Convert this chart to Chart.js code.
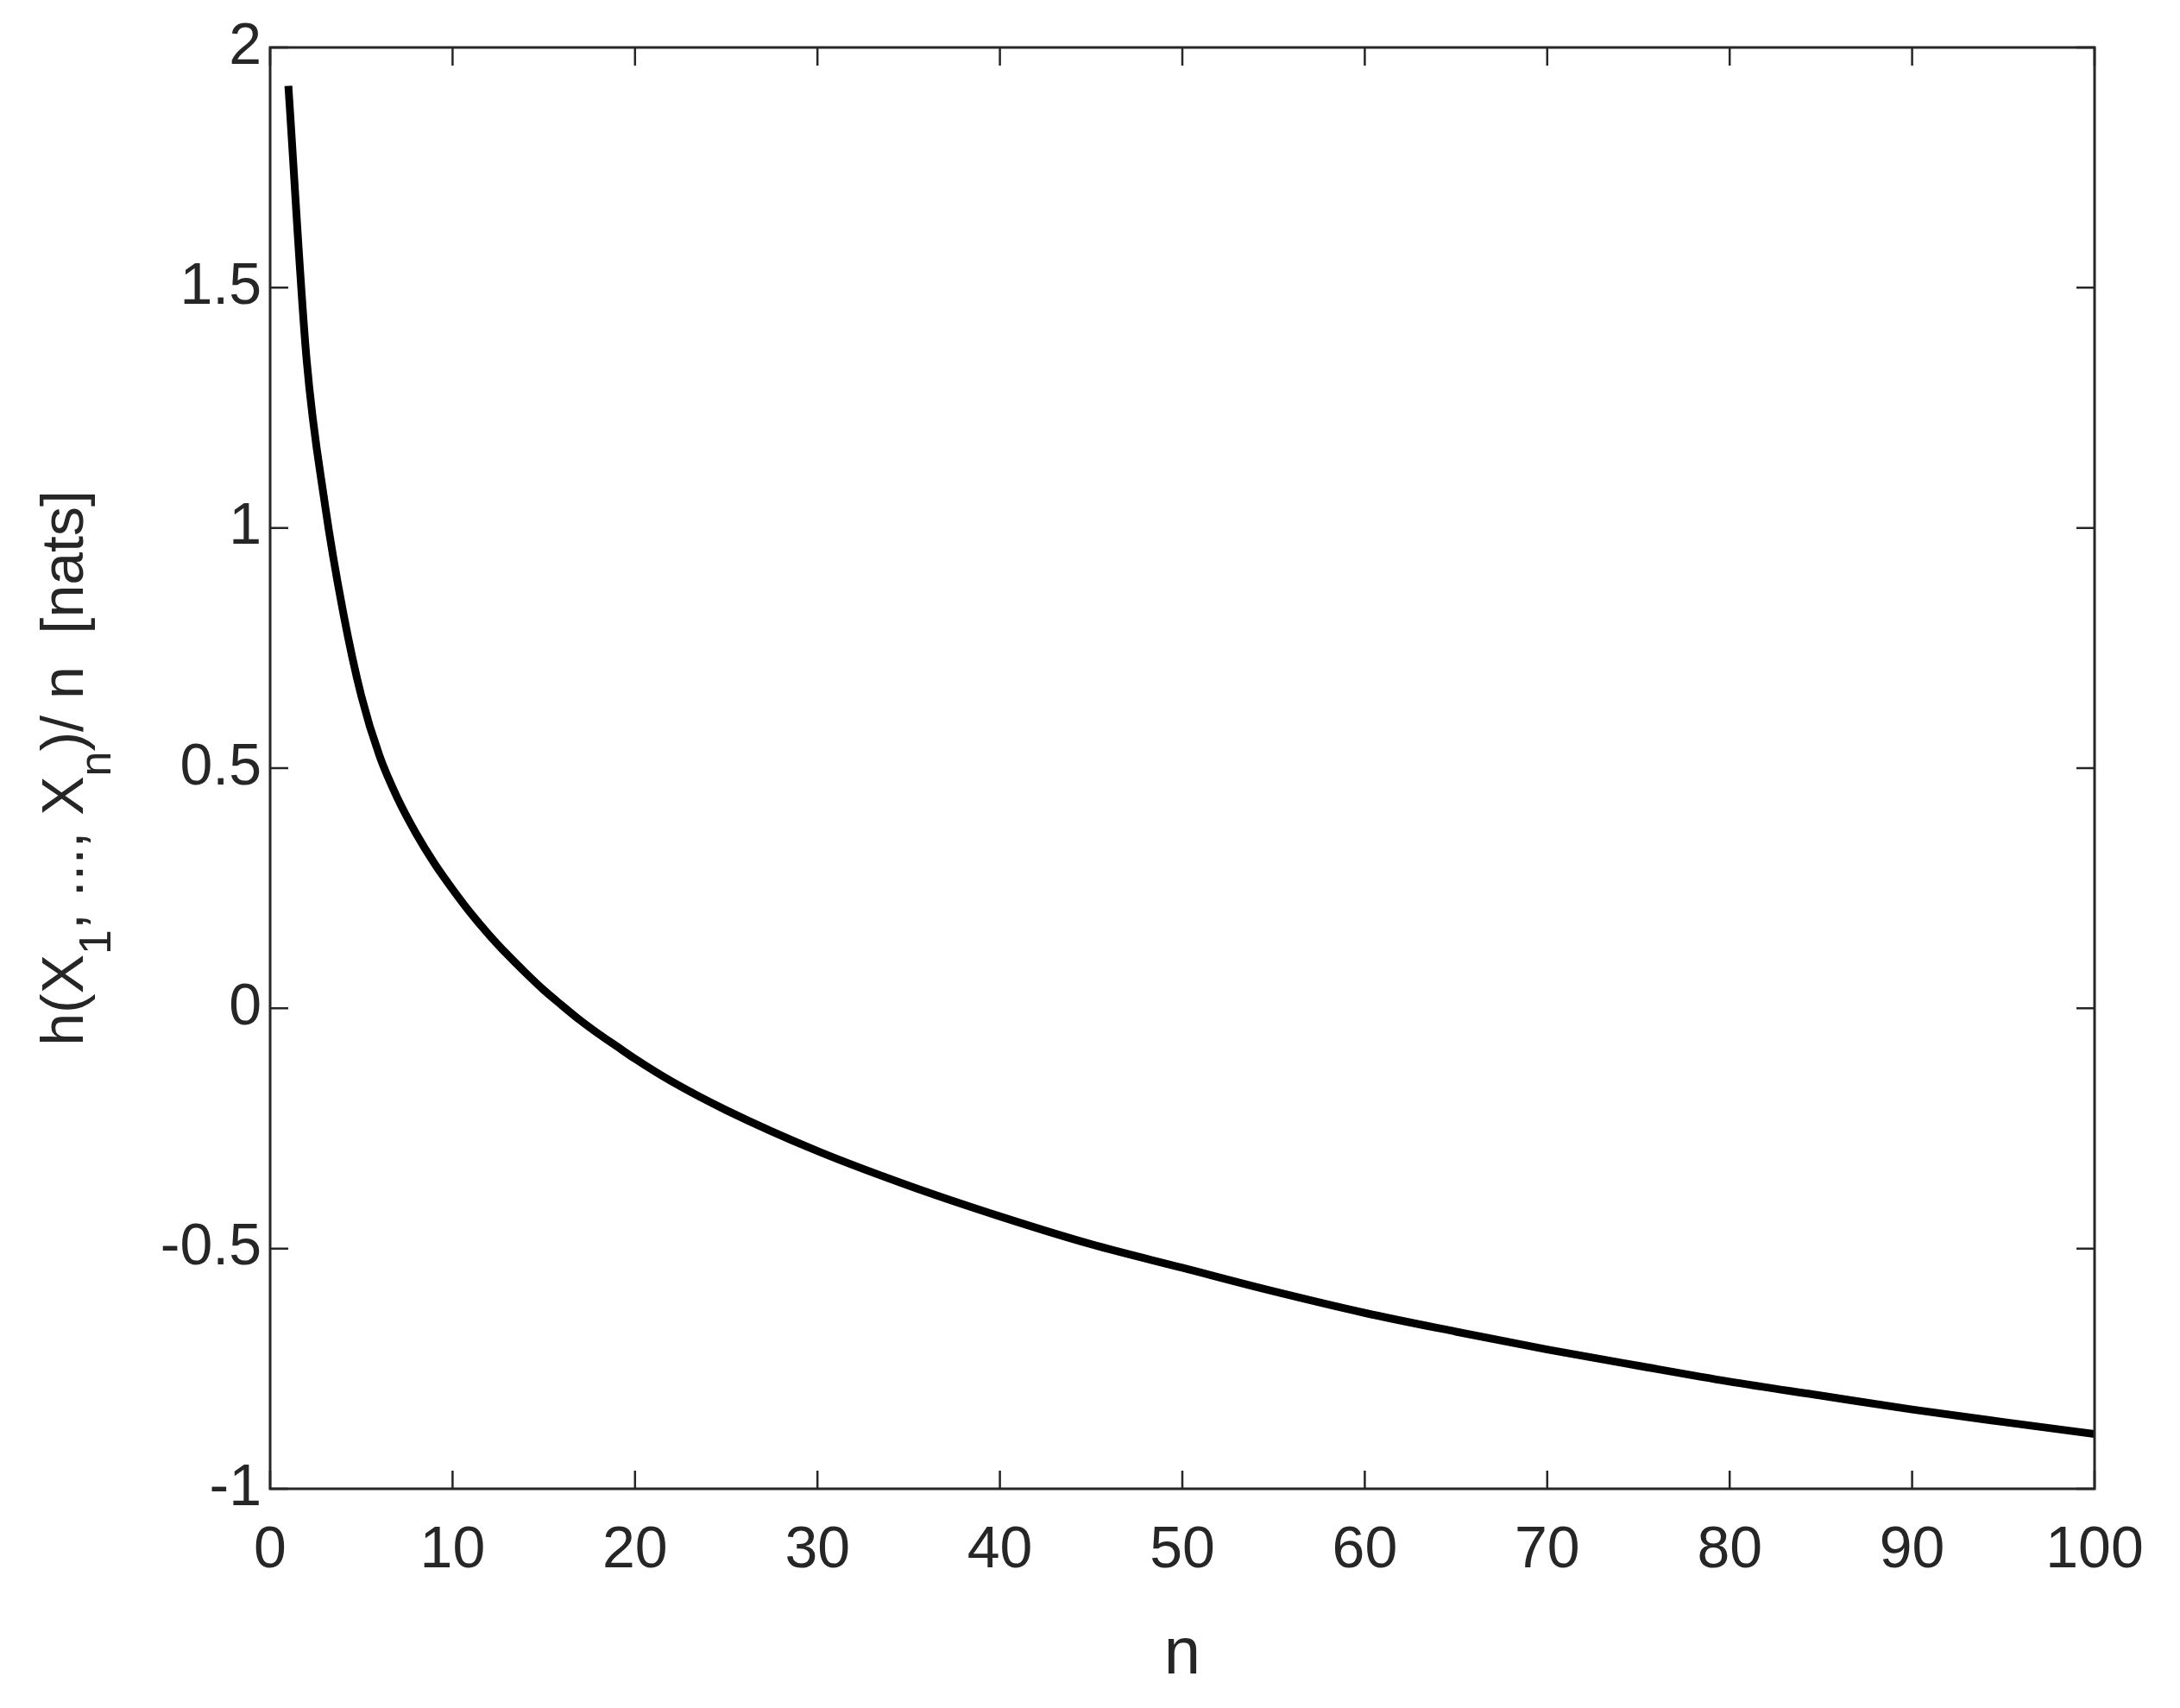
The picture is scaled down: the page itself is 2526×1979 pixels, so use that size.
<!DOCTYPE html>
<html>
<head>
<meta charset="utf-8">
<script src="https://cdn.jsdelivr.net/npm/chart.js@4.4.1/dist/chart.umd.min.js"></script>
<style>
  html, body { margin: 0; padding: 0; background: #fff; }
  canvas { display: block; }
</style>
</head>
<body>
<canvas id="entropyChart" width="2526" height="1979"></canvas>
<script>
// values
const nValues = [1, 2, 3, 4, 5, 6, 7, 8, 9, 10, 11, 12, 13, 14, 15, 16, 17, 18, 19, 20,
                 22, 25, 30, 35, 40, 45, 50, 55, 60, 65, 70, 75, 80, 85, 90, 95, 100];
const hValues = [1.92, 1.35, 1.05, 0.825, 0.65, 0.525, 0.436, 0.364, 0.302, 0.248,
                 0.198, 0.153, 0.112, 0.074, 0.038, 0.006, -0.025, -0.053, -0.079, -0.105,
                 -0.152, -0.212, -0.297, -0.369, -0.433, -0.491, -0.540, -0.589, -0.634, -0.673,
                 -0.710, -0.744, -0.777, -0.806, -0.835, -0.861, -0.886];
const xTicks = [0, 10, 20, 30, 40, 50, 60, 70, 80, 90, 100];
const yTicks = [-1, -0.5, 0, 0.5, 1, 1.5, 2];

const FONT = "'Liberation Sans', Arial, Helvetica, sans-serif";
const AXIS_COLOR = '#262626';

// box around the plot with inward ticks on all four sides
const boxPlugin = {
    id: 'boxPlugin',
    afterDatasetsDraw(chart) {
        const { ctx, chartArea: a, scales } = chart;
        const len = 21;
        ctx.save();
        ctx.strokeStyle = AXIS_COLOR;
        ctx.lineWidth = 2.5;
        ctx.beginPath();
        xTicks.forEach(v => {
            const px = scales.x.getPixelForValue(v);
            ctx.moveTo(px, a.bottom); ctx.lineTo(px, a.bottom - len);
            ctx.moveTo(px, a.top); ctx.lineTo(px, a.top + len);
        });
        yTicks.forEach(v => {
            const py = scales.y.getPixelForValue(v);
            ctx.moveTo(a.left, py); ctx.lineTo(a.left + len, py);
            ctx.moveTo(a.right, py); ctx.lineTo(a.right - len, py);
        });
        ctx.stroke();
        ctx.lineWidth = 3;
        ctx.strokeRect(a.left, a.top, a.right - a.left, a.bottom - a.top);
        ctx.restore();
    }
};

// y label with subscripts: h(X_1, ..., X_n)/ n  [nats]
const yLabelPlugin = {
    id: 'yLabelPlugin',
    afterDraw(chart) {
        const { ctx, chartArea: a } = chart;
        const parts = [
            { t: 'h(X' }, { t: '1', sub: true }, { t: ', ..., X' },
            { t: 'n', sub: true }, { t: ')/ n  [nats]' }
        ];
        const mainFont = '68px ' + FONT;
        const subFont = '52px ' + FONT;
        ctx.save();
        let total = 0;
        parts.forEach(p => {
            ctx.font = p.sub ? subFont : mainFont;
            p.w = ctx.measureText(p.t).width;
            total += p.w;
        });
        ctx.translate(96, (a.top + a.bottom) / 2);
        ctx.rotate(-Math.PI / 2);
        ctx.fillStyle = AXIS_COLOR;
        ctx.textBaseline = 'alphabetic';
        ctx.textAlign = 'left';
        let x = -total / 2;
        parts.forEach(p => {
            ctx.font = p.sub ? subFont : mainFont;
            ctx.fillText(p.t, x, p.sub ? 32 : 0);
            x += p.w;
        });
        ctx.restore();
    }
};

const ctx = document.getElementById('entropyChart').getContext('2d');
new Chart(ctx, {
    type: 'line',
    data: {
        datasets: [{
            data: nValues.map((n, i) => ({ x: n, y: hValues[i] })),
            borderColor: '#000000',
            borderWidth: 9,
            pointRadius: 0,
            fill: false,
            cubicInterpolationMode: 'monotone',
            clip: 0
        }]
    },
    options: {
        responsive: false,
        animation: false,
        devicePixelRatio: 1,
        layout: { padding: 0 },
        plugins: {
            legend: { display: false },
            tooltip: { enabled: false }
        },
        scales: {
            x: {
                type: 'linear',
                position: 'bottom',
                min: 0,
                max: 100,
                grid: { display: false, drawTicks: false },
                border: { display: false },
                ticks: {
                    stepSize: 10,
                    autoSkip: false,
                    maxRotation: 0,
                    padding: 31,
                    color: AXIS_COLOR,
                    font: { family: FONT, size: 68 },
                    callback: v => String(v)
                },
                title: {
                    display: true,
                    text: 'n',
                    color: AXIS_COLOR,
                    font: { family: FONT, size: 76 },
                    padding: { top: 0, bottom: 15 }
                },
                afterFit(s) { s.height = 254; }
            },
            y: {
                type: 'linear',
                position: 'left',
                min: -1,
                max: 2,
                grid: { display: false, drawTicks: false },
                border: { display: false },
                ticks: {
                    stepSize: 0.5,
                    autoSkip: false,
                    padding: 10,
                    color: AXIS_COLOR,
                    font: { family: FONT, size: 68 },
                    callback: v => String(v)
                },
                afterFit(s) { s.width = 313; }
            },
            x2: {
                type: 'linear',
                position: 'top',
                grid: { display: false, drawTicks: false },
                border: { display: false },
                ticks: { display: false },
                afterFit(s) { s.height = 55; }
            },
            y2: {
                type: 'linear',
                position: 'right',
                grid: { display: false, drawTicks: false },
                border: { display: false },
                ticks: { display: false },
                afterFit(s) { s.width = 99; }
            }
        }
    },
    plugins: [boxPlugin, yLabelPlugin]
});
</script>
</body>
</html>
